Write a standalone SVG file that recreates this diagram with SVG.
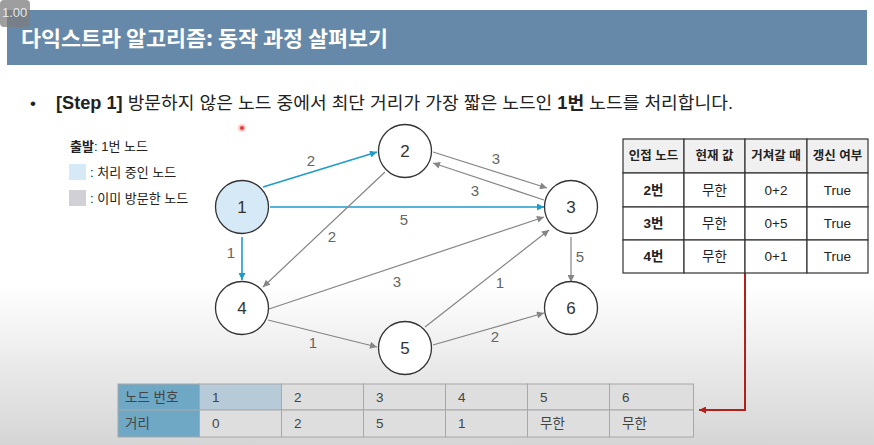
<svg xmlns="http://www.w3.org/2000/svg" width="874" height="445" viewBox="0 0 874 445">
<defs>
<linearGradient id="bg" x1="0" y1="285" x2="0" y2="445" gradientUnits="userSpaceOnUse">
<stop offset="0" stop-color="#ffffff"/>
<stop offset="1" stop-color="#d5d5d5"/>
</linearGradient>
<marker id="ab" viewBox="0 0 10 10" refX="10" refY="5" markerWidth="9" markerHeight="7" markerUnits="userSpaceOnUse" orient="auto"><path d="M0,0 L10,5 L0,10 z" fill="#1d9ccb"/></marker>
<marker id="ag" viewBox="0 0 10 10" refX="10" refY="5" markerWidth="9" markerHeight="7" markerUnits="userSpaceOnUse" orient="auto"><path d="M0,0 L10,5 L0,10 z" fill="#858585"/></marker>
<marker id="ar" viewBox="0 0 10 10" refX="10" refY="5" markerWidth="9" markerHeight="7" markerUnits="userSpaceOnUse" orient="auto"><path d="M0,0 L10,5 L0,10 z" fill="#b3201a"/></marker>
<style>
text{font-family:"Liberation Sans","Noto Sans CJK KR",sans-serif;}
.k{font-family:"Noto Sans CJK KR","Liberation Sans",sans-serif;}
.node circle{fill:#ffffff;stroke:#333;stroke-width:1.3;}
.node text{font-size:17px;fill:#333;text-anchor:middle;}
.eb{stroke:#1d9ccb;stroke-width:1.6;fill:none;marker-end:url(#ab);}
.eg{stroke:#858585;stroke-width:1.2;fill:none;marker-end:url(#ag);}
.el{font-size:15px;fill:#666;text-anchor:middle;}
.tb rect{stroke:#333;stroke-width:1.2;}
.th{font-size:12.5px;font-weight:bold;fill:#222;text-anchor:middle;}
.td{font-size:13.5px;fill:#222;text-anchor:middle;}
.bt rect{stroke:#a8a8a8;stroke-width:1;}
.bx{font-size:13.5px;fill:#444;}
</style>
</defs>
<rect width="874" height="445" fill="url(#bg)"/>

<g id="title">
<rect x="7" y="10" width="860" height="55" fill="#6689a9"/>
<text x="21" y="46" class="k" font-size="21" font-weight="bold" fill="#ffffff" textLength="367" lengthAdjust="spacingAndGlyphs">다익스트라 알고리즘: 동작 과정 살펴보기</text>
</g>
<g id="overlay">
<rect x="0" y="0" width="30" height="27" rx="4" fill="#7d7d7d" opacity="0.75"/>
<text x="2" y="17" font-size="13" fill="#e6e6e6">1.00</text>
<circle cx="242" cy="128" r="4" fill="#ff6b6b" opacity="0.35"/>
<circle cx="242" cy="128" r="2" fill="#e53935"/>
</g>

<g id="bullet">
<text x="30" y="109" font-size="17" fill="#222">•</text>
<text x="56" y="109" font-size="17.5" fill="#222" textLength="677" lengthAdjust="spacingAndGlyphs"><tspan font-weight="bold">[Step 1]</tspan> 방문하지 않은 노드 중에서 최단 거리가 가장 짧은 노드인 <tspan font-weight="bold">1번</tspan> 노드를 처리합니다.</text>
</g>

<g id="legend">
<text x="70" y="151" font-size="13" fill="#222"><tspan font-weight="bold">출발</tspan>: 1번 노드</text>
<rect x="69" y="164" width="17" height="16" fill="#d6e9f7"/>
<text x="90" y="177" font-size="13" fill="#222">: 처리 중인 노드</text>
<rect x="69" y="190" width="17" height="16" fill="#d0d0d6"/>
<text x="90" y="203" font-size="13" fill="#222">: 이미 방문한 노드</text>
</g>

<g id="connectors">
<line class="eb" x1="263" y1="187" x2="377" y2="152"/>
<line class="eb" x1="270" y1="207" x2="544" y2="207"/>
<line class="eb" x1="242" y1="237" x2="242" y2="280"/>
<line class="eg" x1="433" y1="152" x2="547" y2="188"/>
<line class="eg" x1="544" y1="200" x2="433" y2="163"/>
<line class="eg" x1="385" y1="172" x2="263" y2="287"/>
<line class="eg" x1="269" y1="309" x2="544" y2="217"/>
<line class="eg" x1="268" y1="320" x2="377" y2="347"/>
<line class="eg" x1="425" y1="327" x2="549" y2="230"/>
<line class="eg" x1="433" y1="345" x2="544" y2="313"/>
<line class="eg" x1="571" y1="237" x2="571" y2="282"/>
<text class="el" x="311" y="166">2</text>
<text class="el" x="404" y="225">5</text>
<text class="el" x="231" y="258">1</text>
<text class="el" x="496" y="164">3</text>
<text class="el" x="475" y="196">3</text>
<text class="el" x="332" y="242">2</text>
<text class="el" x="397" y="287">3</text>
<text class="el" x="313" y="348">1</text>
<text class="el" x="500" y="288">1</text>
<text class="el" x="495" y="342">2</text>
<text class="el" x="580" y="262">5</text>
<polyline points="745,273 745,410 699,410" fill="none" stroke="#b3201a" stroke-width="2" marker-end="url(#ar)"/>
</g>

<g id="node1" class="node"><circle cx="242" cy="207" r="26.5" style="fill:#d6e9f7"/><text x="242" y="213">1</text></g>
<g id="node2" class="node"><circle cx="405" cy="151" r="26.5"/><text x="405" y="157">2</text></g>
<g id="node3" class="node"><circle cx="571" cy="207" r="26.5"/><text x="571" y="213">3</text></g>
<g id="node4" class="node"><circle cx="242" cy="308" r="26.5"/><text x="242" y="314">4</text></g>
<g id="node5" class="node"><circle cx="405" cy="348" r="26.5"/><text x="405" y="354">5</text></g>
<g id="node6" class="node"><circle cx="571" cy="308" r="26.5"/><text x="571" y="314">6</text></g>

<g id="table-adj" class="tb">
<rect x="623" y="139" width="61" height="34" fill="#f0f0f0"/>
<rect x="684" y="139" width="61" height="34" fill="#f0f0f0"/>
<rect x="745" y="139" width="62" height="34" fill="#f0f0f0"/>
<rect x="807" y="139" width="61" height="34" fill="#f0f0f0"/>
<rect x="623" y="173" width="61" height="34" fill="#fff"/>
<rect x="684" y="173" width="61" height="34" fill="#fff"/>
<rect x="745" y="173" width="62" height="34" fill="#fff"/>
<rect x="807" y="173" width="61" height="34" fill="#fff"/>
<rect x="623" y="207" width="61" height="33" fill="#fff"/>
<rect x="684" y="207" width="61" height="33" fill="#fff"/>
<rect x="745" y="207" width="62" height="33" fill="#fff"/>
<rect x="807" y="207" width="61" height="33" fill="#fff"/>
<rect x="623" y="240" width="61" height="33" fill="#fff"/>
<rect x="684" y="240" width="61" height="33" fill="#fff"/>
<rect x="745" y="240" width="62" height="33" fill="#fff"/>
<rect x="807" y="240" width="61" height="33" fill="#fff"/>
<text class="th" x="653.5" y="160">인접 노드</text>
<text class="th" x="714.5" y="160">현재 값</text>
<text class="th" x="776" y="160">거쳐갈 때</text>
<text class="th" x="837.5" y="160">갱신 여부</text>
<text class="td" x="653.5" y="195" font-weight="bold">2번</text>
<text class="td" x="714.5" y="195">무한</text>
<text class="td" x="776" y="195">0+2</text>
<text class="td" x="837.5" y="195">True</text>
<text class="td" x="653.5" y="228" font-weight="bold">3번</text>
<text class="td" x="714.5" y="228">무한</text>
<text class="td" x="776" y="228">0+5</text>
<text class="td" x="837.5" y="228">True</text>
<text class="td" x="653.5" y="261" font-weight="bold">4번</text>
<text class="td" x="714.5" y="261">무한</text>
<text class="td" x="776" y="261">0+1</text>
<text class="td" x="837.5" y="261">True</text>
</g>

<g id="table-dist" class="bt">
<rect x="118" y="384" width="81.5" height="26" fill="#6ea8c5"/>
<rect x="118" y="410" width="81.5" height="27" fill="#6ea8c5"/>
<rect x="199.5" y="384" width="82" height="26" fill="#b6cbd7"/>
<rect x="281.5" y="384" width="82" height="26" fill="#dedede"/>
<rect x="363.5" y="384" width="82" height="26" fill="#dedede"/>
<rect x="445.5" y="384" width="82" height="26" fill="#dedede"/>
<rect x="527.5" y="384" width="82" height="26" fill="#dedede"/>
<rect x="609.5" y="384" width="84" height="26" fill="#dedede"/>
<rect x="199.5" y="410" width="82" height="27" fill="#dedede"/>
<rect x="281.5" y="410" width="82" height="27" fill="#dedede"/>
<rect x="363.5" y="410" width="82" height="27" fill="#dedede"/>
<rect x="445.5" y="410" width="82" height="27" fill="#dedede"/>
<rect x="527.5" y="410" width="82" height="27" fill="#dedede"/>
<rect x="609.5" y="410" width="84" height="27" fill="#dedede"/>
<text class="bx" x="125" y="402" fill="#222">노드 번호</text>
<text class="bx" x="125" y="428" fill="#222">거리</text>
<text class="bx" x="212" y="402">1</text>
<text class="bx" x="294" y="402">2</text>
<text class="bx" x="376" y="402">3</text>
<text class="bx" x="458" y="402">4</text>
<text class="bx" x="540" y="402">5</text>
<text class="bx" x="622" y="402">6</text>
<text class="bx" x="212" y="428">0</text>
<text class="bx" x="294" y="428">2</text>
<text class="bx" x="376" y="428">5</text>
<text class="bx" x="458" y="428">1</text>
<text class="bx" x="540" y="428">무한</text>
<text class="bx" x="622" y="428">무한</text>
</g>
</svg>
